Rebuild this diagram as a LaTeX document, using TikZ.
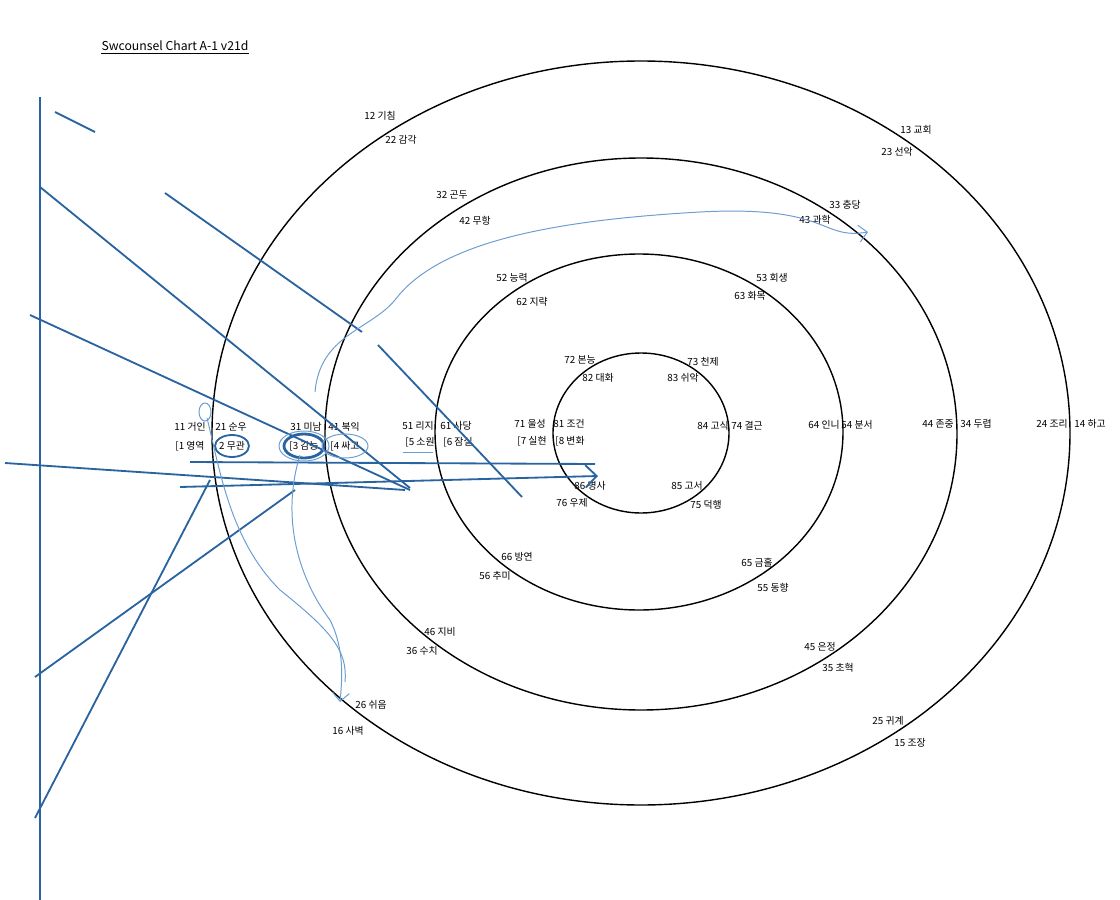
\documentclass[tikz,border=0pt]{standalone}
\usepackage{fontspec}
\setmainfont{Noto Sans CJK KR}
\usetikzlibrary{arrows.meta}
\definecolor{inkblue}{HTML}{2A64A0}
\definecolor{penblue}{HTML}{6C9DD2}
\tikzset{
  lbl/.style={font=\fontsize{7}{8}\selectfont,inner sep=0pt},
  ring/.style={draw=black,line width=1pt},
  ink/.style={draw=inkblue,line width=1.3pt},
  pen/.style={draw=penblue,line width=0.7pt},
}
\begin{document}
\begin{tikzpicture}[x=0.025cm,y=-0.025cm]
                \useasboundingbox (0,0) rectangle (1120,900);
                \node[font=\fontsize{8.7}{10}\selectfont,inner sep=0pt] (title) at (175,46) {Swcounsel Chart A-1 v21d};
                \draw[line width=0.6pt] (title.south west) ++(0,-1.5pt) -- ([yshift=-1.5pt]title.south east);
                % rings
                \draw[ring] (641,433) ellipse (429 and 372);
                \draw[ring] (641,434) ellipse (316 and 276);
                \draw[ring] (639,432) ellipse (204 and 178);
                \draw[ring] (641,433) ellipse (88 and 80);
                % upper left
                \node[lbl] (l12) at (380,116) {12 기침};
                \node[lbl] (l22) at (401,140) {22 감각};
                \node[lbl] (l32) at (452,195) {32 곤두};
                \node[lbl] (l42) at (475,221) {42 무항};
                \node[lbl] (l52) at (512,278) {52 능력};
                \node[lbl] (l62) at (532,302) {62 지략};
                \node[lbl] (l72) at (580,360) {72 본능};
                \node[lbl] (l82) at (598,378) {82 대화};
                % upper right
                \node[lbl] (l13) at (916,130) {13 교회};
                \node[lbl] (l23) at (897,152) {23 선악};
                \node[lbl] (l33) at (845,205) {33 충당};
                \node[lbl] (l43) at (815,220) {43 과학};
                \node[lbl] (l53) at (772,278) {53 회생};
                \node[lbl] (l63) at (750,296) {63 화목};
                \node[lbl] (l73) at (703,362) {73 천제};
                \node[lbl] (l83) at (683,378) {83 쉬악};
                % left rows
                \node[lbl] (l11) at (190,427) {11 거인};
                \node[lbl] (l21) at (231,427) {21 순우};
                \node[lbl] (l31) at (306,427) {31 미남};
                \node[lbl] (l41) at (344,427) {41 북익};
                \node[lbl] (l51) at (418,426) {51 리지};
                \node[lbl] (l61) at (456,426) {61 사당};
                \node[lbl] (l71) at (530,424) {71 울성};
                \node[lbl] (l81) at (569,424) {81 조건};
                \node[lbl] (m1) at (190,446) {[1 영역};
                \node[lbl] (m2) at (232,446) {2 무관};
                \node[lbl] (m3) at (304,446) {[3 감능};
                \node[lbl] (m4) at (345,446) {[4 싸고};
                \node[lbl] (m5) at (420,442) {[5 소원};
                \node[lbl] (m6) at (458,442) {[6 잠실};
                \node[lbl] (m7) at (532,441) {[7 실현};
                \node[lbl] (m8) at (570,441) {[8 변화};
                % right row
                \node[lbl] (l84) at (713,426) {84 고식};
                \node[lbl] (l74) at (747,426) {74 결근};
                \node[lbl] (l64) at (824,425) {64 인니};
                \node[lbl] (l54) at (857,425) {54 분서};
                \node[lbl] (l44) at (938,424) {44 존중};
                \node[lbl] (l34) at (976,424) {34 두렵};
                \node[lbl] (l24) at (1052,424) {24 조리};
                \node[lbl] (l14) at (1090,424) {14 하고};
                % lower left
                \node[lbl] (l86) at (590,486) {86 명사};
                \node[lbl] (l76) at (572,503) {76 우제};
                \node[lbl] (l66) at (517,557) {66 방연};
                \node[lbl] (l56) at (495,576) {56 추미};
                \node[lbl] (l46) at (440,632) {46 지비};
                \node[lbl] (l36) at (422,651) {36 수치};
                \node[lbl] (l26) at (371,705) {26 쉬음};
                \node[lbl] (l16) at (348,731) {16 사벽};
                % lower right
                \node[lbl] (l85) at (687,486) {85 고서};
                \node[lbl] (l75) at (706,505) {75 덕행};
                \node[lbl] (l65) at (757,563) {65 금홀};
                \node[lbl] (l55) at (773,588) {55 동향};
                \node[lbl] (l45) at (820,647) {45 은정};
                \node[lbl] (l35) at (838,668) {35 초혁};
                \node[lbl] (l25) at (888,721) {25 귀계};
                \node[lbl] (l15) at (910,743) {15 조장};
                % hand marks
                \draw[ink] (40,97) -- (40,900);
                \draw[ink] (55,112) -- (95,132);
                \draw[ink] (165,193) -- (362,332);
                \draw[ink] (40,187) -- (410,488);
                \draw[ink] (30,315) -- (410,490);
                \draw[ink] (378,345) -- (522,497);
                \draw[ink] (5,463) -- (405,490);
                \draw[ink] (190,462) -- (595,464);
                \draw[ink,-{Straight Barb[length=8pt]}] (180,487) -- (598,476);
                \draw[ink] (35,677) -- (295,490);
                \draw[ink] (35,818) -- (210,480);
                \draw[ink] (m2) ellipse (17 and 11);
                \draw[ink,line width=2pt] (m3) ellipse (20 and 12);
                \draw[pen] (m3) ellipse (25 and 15);
                \draw[pen] (m4) ellipse (23 and 12);
                \draw[pen] (m5.south west) ++(-2,5) -- ++(30,0);
                \draw[pen] (205,412) ellipse (6 and 9);
                \draw[pen,{Straight Barb[length=6pt]}-] (868,232) .. controls (820,240) and (830,205) .. (700,212)
                    .. controls (560,220) and (440,240) .. (395,300)
                    .. controls (370,330) and (320,335) .. (315,392);
                \draw[pen,-{Straight Barb[length=6pt]}] (300,455) .. controls (280,520) and (300,580) .. (330,620)
                    .. controls (345,650) and (342,680) .. (340,702);
                \draw[pen] (207,418) .. controls (220,470) and (230,540) .. (280,590)
                    .. controls (330,630) and (348,650) .. (345,682);
\end{tikzpicture}
\end{document}
